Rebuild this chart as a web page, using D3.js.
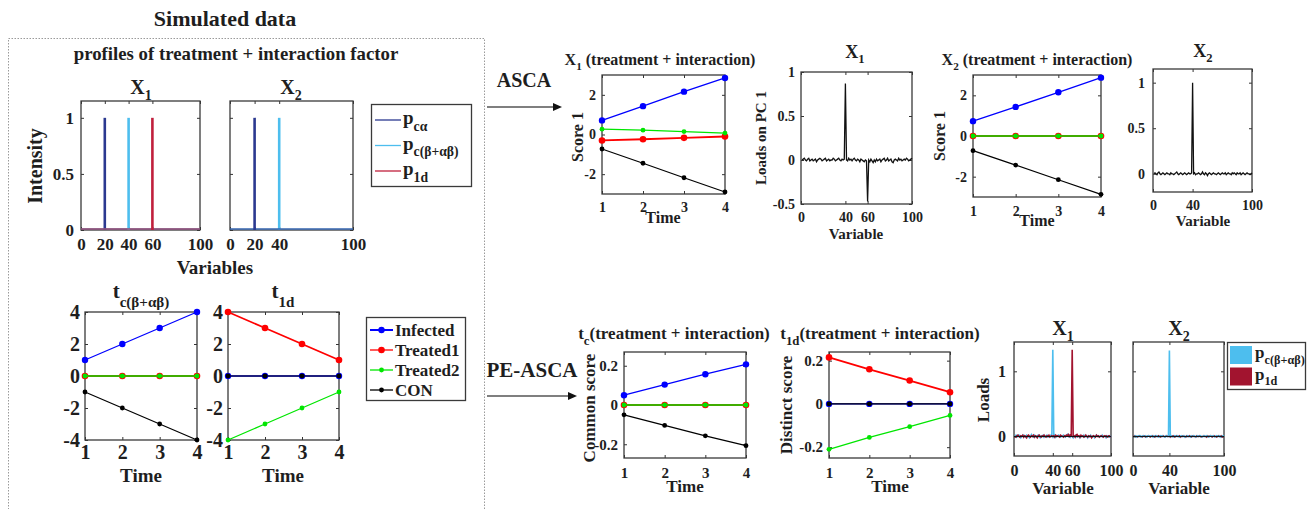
<!DOCTYPE html>
<html>
<head>
<meta charset="utf-8">
<script src="https://cdn.jsdelivr.net/npm/d3@7"></script>
<style>
body { margin: 0; background: #fff; }
svg text { font-family: "Liberation Serif", "Times New Roman", serif; font-weight: bold; fill: #1e1e1e; }
</style>
</head>
<body>
<div id="chart"></div>
<script>
// ---------- data ----------
var times = [1, 2, 3, 4];
var groups = ["Infected", "Treated1", "Treated2", "CON"];
var groupColors = {Infected: "#0000ff", Treated1: "#ff0000", Treated2: "#00e600", CON: "#000000"};
var groupDot = {Infected: 3.2, Treated1: 3.3, Treated2: 2.4, CON: 2.4};
var groupWidth = {Infected: 1.3, Treated1: 1.8, Treated2: 1.3, CON: 1.2};

// simulated profiles (spike position, intensity)
var profileNames = {pca: ["p", "cα"], pcb: ["p", "c(β+αβ)"], p1d: ["p", "1d"]};
var profileColors = {pca: "#2b3990", pcb: "#4dbeee", p1d: "#c01f3c"};
var profX1 = [{key: "pca", peak: 20, height: 1}, {key: "pcb", peak: 40, height: 1}, {key: "p1d", peak: 60, height: 1}];
var profX2 = [{key: "pcb", peak: 40, height: 1}, {key: "pca", peak: 20, height: 1}];

// simulated scores
var simTc = {Infected: [1, 2, 3, 4], Treated1: [0, 0, 0, 0], Treated2: [0, 0, 0, 0], CON: [-1, -2, -3, -4]};
var simT1d = {Infected: [0, 0, 0, 0], Treated1: [4, 3, 2, 1], Treated2: [-4, -3, -2, -1], CON: [0, 0, 0, 0]};

// ASCA scores
var ascaX1Score = {Infected: [0.71, 1.43, 2.16, 2.85], Treated1: [-0.30, -0.24, -0.17, -0.10], Treated2: [0.27, 0.22, 0.15, 0.07], CON: [-0.73, -1.45, -2.18, -2.90]};
var ascaX2Score = {Infected: [0.73, 1.43, 2.15, 2.87], Treated1: [0, 0, 0, 0], Treated2: [0, 0, 0, 0], CON: [-0.72, -1.43, -2.15, -2.87]};

// PE-ASCA scores
var peTc = {Infected: [0.05, 0.104, 0.157, 0.207], Treated1: [0, 0, 0, 0], Treated2: [0, 0, 0, 0], CON: [-0.05, -0.104, -0.157, -0.207]};
var peT1d = {Infected: [0, 0, 0, 0], Treated1: [0.215, 0.16, 0.108, 0.054], Treated2: [-0.21, -0.155, -0.105, -0.053], CON: [0, 0, 0, 0]};

// ASCA loadings on PC1, variables 1..100
var ascaLoadX1 = [
  0.00, 0.01, 0.02, 0.00, -0.01, 0.01, 0.02, -0.01, 0.00, 0.01,
  -0.01, 0.00, 0.01, -0.02, 0.00, 0.01, 0.02, 0.01, -0.01, 0.00,
  0.01, 0.02, -0.01, 0.00, 0.01, -0.01, 0.00, 0.00, 0.02, 0.01,
  -0.01, 0.00, 0.01, 0.02, 0.00, -0.01, 0.01, 0.00, 0.01, 0.87,
  0.00, -0.01, 0.02, 0.00, 0.01, -0.01, 0.01, 0.02, 0.00, -0.01,
  0.01, 0.00, -0.02, 0.01, 0.00, -0.01, -0.02, 0.00, -0.01, -0.47,
  0.00, -0.02, 0.01, -0.01, -0.03, 0.00, -0.02, 0.01, -0.01, 0.00,
  0.01, -0.02, 0.00, 0.01, 0.02, -0.01, 0.00, 0.02, -0.01, 0.00,
  0.01, -0.02, -0.03, 0.00, 0.01, 0.00, -0.01, 0.02, 0.00, 0.01,
  -0.01, 0.00, 0.01, 0.00, 0.02, 0.01, -0.01, 0.00, 0.01, 0.02
];
var ascaLoadX2 = [
  0.00, 0.01, 0.00, -0.01, 0.01, 0.02, 0.00, -0.01, 0.00, 0.01,
  0.00, -0.01, 0.00, 0.01, 0.00, 0.00, -0.01, 0.01, 0.00, 0.00,
  -0.01, 0.00, 0.01, 0.02, 0.00, -0.01, 0.00, 0.01, 0.00, -0.01,
  0.00, 0.01, 0.00, -0.01, 0.00, 0.01, 0.00, 0.00, 0.01, 1.00,
  0.00, 0.01, -0.01, 0.00, 0.00, 0.01, 0.00, -0.01, 0.00, 0.02,
  0.00, -0.01, 0.01, 0.00, -0.02, 0.00, 0.01, 0.00, -0.01, 0.00,
  0.01, 0.00, 0.00, -0.01, 0.00, 0.01, 0.00, -0.01, 0.00, 0.01,
  0.00, 0.00, 0.01, -0.01, 0.00, 0.01, 0.00, 0.00, -0.01, 0.01,
  0.00, 0.01, 0.00, -0.01, 0.01, 0.00, 0.00, 0.01, -0.01, 0.00,
  0.01, 0.00, -0.01, 0.00, 0.01, 0.00, 0.00, -0.01, 0.00, 0.01
];

// PE-ASCA loadings, common (c) and distinct (1d), variables 1..100
var peLoadX1c = [
  0.01, 0.02, -0.01, 0.00, 0.02, 0.01, -0.02, 0.00, 0.01, 0.02,
  0.00, -0.01, 0.02, 0.01, 0.00, -0.02, 0.01, 0.03, 0.00, -0.01,
  0.02, 0.00, -0.01, 0.01, 0.02, 0.00, -0.02, 0.01, 0.00, 0.02,
  -0.01, 0.01, 0.00, 0.02, -0.01, 0.00, 0.01, 0.02, 0.00, 1.33,
  0.00, 0.02, -0.01, 0.01, 0.00, 0.02, 0.01, -0.01, 0.00, 0.01,
  0.02, 0.00, -0.01, 0.01, 0.03, 0.00, 0.02, -0.01, 0.01, 0.00,
  -0.02, 0.01, 0.00, 0.02, -0.01, 0.00, 0.01, -0.02, 0.00, 0.01,
  0.00, 0.02, -0.01, 0.00, 0.01, -0.02, 0.01, 0.00, 0.02, -0.01,
  0.00, 0.01, -0.02, 0.00, 0.02, 0.01, 0.00, -0.01, 0.01, 0.00,
  0.02, -0.01, 0.00, 0.01, -0.02, 0.00, 0.01, 0.00, -0.01, 0.01
];
var peLoadX1d = [
  0.00, -0.01, 0.01, 0.02, 0.00, -0.01, 0.01, 0.00, 0.02, -0.01,
  0.01, 0.00, -0.02, 0.01, 0.02, 0.00, -0.01, 0.01, 0.00, 0.02,
  -0.01, 0.01, 0.00, -0.02, 0.01, 0.02, 0.00, -0.01, 0.01, 0.00,
  0.02, 0.00, -0.01, 0.01, 0.00, 0.02, -0.01, 0.00, 0.01, 0.00,
  0.01, -0.01, 0.02, 0.00, 0.01, 0.00, -0.01, 0.02, 0.01, 0.00,
  -0.01, 0.01, 0.00, 0.02, 0.01, 0.03, 0.00, 0.02, 0.01, 1.33,
  0.00, 0.01, -0.01, 0.02, 0.03, 0.00, 0.01, -0.01, 0.02, 0.00,
  0.01, -0.01, 0.00, 0.02, 0.00, -0.01, 0.01, 0.00, 0.01, -0.02,
  0.00, 0.01, 0.00, -0.01, 0.02, 0.00, 0.01, -0.01, 0.00, 0.01,
  0.00, -0.01, 0.01, 0.00, 0.01, -0.01, 0.00, 0.01, 0.00, -0.01
];
var peLoadX2c = [
  0.01, 0.00, 0.01, -0.01, 0.00, 0.01, 0.00, 0.01, -0.01, 0.00,
  0.01, 0.00, 0.00, 0.01, -0.01, 0.00, 0.01, 0.00, 0.00, 0.01,
  0.00, -0.01, 0.01, 0.00, 0.00, 0.01, 0.00, -0.01, 0.00, 0.01,
  0.00, 0.01, 0.00, 0.00, -0.01, 0.01, 0.00, 0.00, 0.01, 1.32,
  0.00, 0.01, 0.00, -0.01, 0.00, 0.01, 0.00, 0.00, 0.01, 0.00,
  -0.01, 0.00, 0.01, 0.00, 0.00, 0.01, -0.01, 0.00, 0.00, 0.01,
  0.00, 0.00, -0.01, 0.01, 0.00, 0.00, 0.01, 0.00, -0.01, 0.00,
  0.01, 0.00, 0.00, 0.01, 0.00, -0.01, 0.00, 0.01, 0.00, 0.00,
  0.01, 0.00, -0.01, 0.00, 0.01, 0.00, 0.00, 0.01, 0.00, -0.01,
  0.00, 0.01, 0.00, 0.00, 0.01, -0.01, 0.00, 0.00, 0.01, 0.00
];
var peLoadX2d = [
  0.00, 0.01, 0.00, 0.00, -0.01, 0.00, 0.01, 0.00, 0.00, -0.01,
  0.00, 0.01, 0.00, -0.01, 0.00, 0.00, 0.01, 0.00, -0.01, 0.00,
  0.01, 0.00, 0.00, -0.01, 0.01, 0.00, 0.00, 0.01, 0.00, -0.01,
  0.00, 0.00, 0.01, 0.00, -0.01, 0.00, 0.01, 0.00, 0.00, 0.01,
  -0.01, 0.00, 0.00, 0.01, 0.00, -0.01, 0.00, 0.01, 0.00, 0.00,
  0.01, -0.01, 0.00, 0.00, 0.01, 0.00, 0.00, -0.01, 0.01, 0.00,
  0.00, 0.01, 0.00, -0.01, 0.00, 0.01, 0.00, 0.00, -0.01, 0.01,
  0.00, 0.00, 0.01, 0.00, -0.01, 0.00, 0.00, 0.01, 0.00, 0.00,
  -0.01, 0.01, 0.00, 0.00, 0.01, 0.00, -0.01, 0.00, 0.01, 0.00,
  0.00, -0.01, 0.00, 0.01, 0.00, 0.00, 0.01, -0.01, 0.00, 0.00
];
var loadColors = {c: "#4dbeee", d: "#a2142f"};

// ---------- drawing ----------
var svg = d3.select("#chart").append("svg")
    .attr("width", 1310)
    .attr("height", 509);

// dotted frame round the simulated data
svg.append("rect")
    .attr("x", 8.5).attr("y", 38.5)
    .attr("width", 476).attr("height", 490)
    .attr("fill", "none")
    .attr("stroke", "#9a9a9a")
    .attr("stroke-dasharray", "1.5,1.5");

// text with subscripts: segs = ["X", {sub: "1"}, " (..)"]
function rich(parent, x, y, segs, size, opts) {
    opts = opts || {};
    var t = parent.append("text")
        .attr("x", x).attr("y", y)
        .attr("text-anchor", opts.anchor || "middle")
        .style("font-size", size + "px");
    if (opts.rotate) {
        t.attr("x", 0).attr("y", 0)
            .attr("transform", "translate(" + x + "," + y + ") rotate(-90)");
    }
    var shift = 0;
    segs.forEach(function (s) {
        var isSub = typeof s !== "string";
        var target = isSub ? (s.dy || 0.3) * size : 0;
        var ts = t.append("tspan").text(isSub ? s.sub : s).attr("dy", target - shift);
        if (isSub) ts.style("font-size", (s.size || 0.7) * size + "px");
        shift = target;
    });
    return t;
}

// matlab-like box axes
function box(p) {
    var g = svg.append("g").attr("transform", "translate(" + p.x + "," + p.y + ")");
    var x = d3.scaleLinear().domain(p.xDomain).range([0, p.w]);
    var y = d3.scaleLinear().domain(p.yDomain).range([p.h, 0]);
    var fmt = function (d) { return String(d); };
    var none = function () { return ""; };

    g.append("g").attr("transform", "translate(0," + p.h + ")")
        .call(d3.axisBottom(x).tickValues(p.xTicks).tickSize(-3).tickPadding(p.xPad).tickFormat(fmt))
        .style("font-size", p.font + "px");
    g.append("g")
        .call(d3.axisTop(x).tickValues(p.xTicks).tickSize(-3).tickFormat(none));
    g.append("g")
        .call(d3.axisLeft(y).tickValues(p.yTicks).tickSize(-3).tickPadding(p.yPad)
            .tickFormat(p.noYLabels ? none : fmt))
        .style("font-size", p.font + "px");
    g.append("g").attr("transform", "translate(" + p.w + ",0)")
        .call(d3.axisRight(y).tickValues(p.yTicks).tickSize(-3).tickFormat(none));

    g.selectAll(".domain").remove();
    g.selectAll(".tick line").attr("stroke", "#333");
    g.selectAll(".tick text").attr("fill", "#1e1e1e")
        .style("font-family", "'Liberation Serif', serif").style("font-weight", "bold");

    g.append("rect")
        .attr("width", p.w).attr("height", p.h)
        .attr("fill", "none")
        .attr("stroke", "#3a3a3a")
        .attr("stroke-width", 1.3);

    return {g: g, x: x, y: y};
}

function scoreLines(ax, series) {
    var line = d3.line()
        .x(function (d, i) { return ax.x(times[i]); })
        .y(function (d) { return ax.y(d); });
    groups.forEach(function (k) {
        ax.g.append("path")
            .datum(series[k])
            .attr("d", line)
            .attr("fill", "none")
            .attr("stroke", groupColors[k])
            .attr("stroke-width", groupWidth[k]);
        ax.g.selectAll(".dot-" + k)
            .data(series[k])
            .enter().append("circle")
            .attr("cx", function (d, i) { return ax.x(times[i]); })
            .attr("cy", function (d) { return ax.y(d); })
            .attr("r", groupDot[k])
            .attr("fill", groupColors[k]);
    });
}

function loadLine(ax, values, color, width) {
    var line = d3.line()
        .x(function (d, i) { return ax.x(i + 1); })
        .y(function (d) { return ax.y(d); });
    ax.g.append("path")
        .datum(values)
        .attr("d", line)
        .attr("fill", "none")
        .attr("stroke", color)
        .attr("stroke-width", width);
}

function profiles(ax, list) {
    list.forEach(function (p) {
        ax.g.append("line")
            .attr("x1", ax.x(0)).attr("x2", ax.x(100))
            .attr("y1", ax.y(0) - 1).attr("y2", ax.y(0) - 1)
            .attr("stroke", profileColors[p.key]).attr("stroke-width", 1.2);
        ax.g.append("line")
            .attr("x1", ax.x(p.peak)).attr("x2", ax.x(p.peak))
            .attr("y1", ax.y(0)).attr("y2", ax.y(p.height))
            .attr("stroke", profileColors[p.key]).attr("stroke-width", 2.6);
    });
}

// ---- simulated data ----
rich(svg, 225, 26, ["Simulated data"], 22);
rich(svg, 236, 60, ["profiles of treatment + interaction factor"], 18.8);

var axA = box({x: 81, y: 101, w: 119, h: 129, xDomain: [0, 100], yDomain: [0, 1.15],
    xTicks: [0, 20, 40, 60, 100], yTicks: [0, 0.5, 1], font: 17, xPad: 8, yPad: 7});
profiles(axA, profX1);
var axB = box({x: 230, y: 101, w: 123, h: 129, xDomain: [0, 100], yDomain: [0, 1.15],
    xTicks: [0, 20, 40, 100], yTicks: [0, 0.5, 1], font: 17, xPad: 8, yPad: 7, noYLabels: true});
profiles(axB, profX2);
rich(svg, 141, 94, ["X", {sub: "1"}], 20);
rich(svg, 291, 94, ["X", {sub: "2"}], 20);
rich(svg, 42, 166, ["Intensity"], 20, {rotate: true}).attr("dy", "0.35em");
rich(svg, 215, 274, ["Variables"], 19);

// legend of profiles
svg.append("rect").attr("x", 371.5).attr("y", 104.5).attr("width", 100).attr("height", 82)
    .attr("fill", "#fff").attr("stroke", "#3a3a3a").attr("stroke-width", 1.3);
["pca", "pcb", "p1d"].forEach(function (k, i) {
    var yy = 120 + i * 25.5;
    svg.append("line").attr("x1", 375).attr("x2", 401).attr("y1", yy).attr("y2", yy)
        .attr("stroke", profileColors[k]).attr("stroke-width", 1.3);
    rich(svg, 403, yy + 4, [profileNames[k][0], {sub: profileNames[k][1], dy: 0.35, size: 0.72}], 19, {anchor: "start"});
});

var axC = box({x: 85, y: 312, w: 112, h: 128, xDomain: [1, 4], yDomain: [-4, 4],
    xTicks: [1, 2, 3, 4], yTicks: [-4, -2, 0, 2, 4], font: 20, xPad: 5, yPad: 5});
scoreLines(axC, simTc);
var axD = box({x: 228, y: 312, w: 111, h: 128, xDomain: [1, 4], yDomain: [-4, 4],
    xTicks: [1, 2, 3, 4], yTicks: [-4, -2, 0, 2, 4], font: 20, xPad: 5, yPad: 5});
scoreLines(axD, simT1d);
rich(svg, 141, 298, ["t", {sub: "c(β+αβ)", dy: 0.45, size: 0.72}], 21);
rich(svg, 283, 298, ["t", {sub: "1d", dy: 0.45, size: 0.72}], 21);
rich(svg, 141, 482, ["Time"], 19);
rich(svg, 283, 482, ["Time"], 19);

// legend of groups
svg.append("rect").attr("x", 366.5).attr("y", 317.5).attr("width", 99).attr("height", 83)
    .attr("fill", "#fff").attr("stroke", "#3a3a3a").attr("stroke-width", 1.3);
groups.forEach(function (k, i) {
    var yy = 330 + i * 20;
    svg.append("line").attr("x1", 370).attr("x2", 393).attr("y1", yy).attr("y2", yy)
        .attr("stroke", groupColors[k]).attr("stroke-width", k === "Infected" ? 2 : 1.3);
    svg.append("circle").attr("cx", 381.5).attr("cy", yy).attr("r", groupDot[k])
        .attr("fill", groupColors[k]);
    rich(svg, 395, yy + 6, [k], 17, {anchor: "start"});
});

// ---- arrows ----
function arrow(x1, x2, yy) {
    svg.append("line").attr("x1", x1).attr("x2", x2 - 7).attr("y1", yy).attr("y2", yy)
        .attr("stroke", "#555").attr("stroke-width", 1.3);
    svg.append("path")
        .attr("d", "M" + x2 + "," + yy + "L" + (x2 - 9) + "," + (yy - 4) + "L" + (x2 - 9) + "," + (yy + 4) + "Z")
        .attr("fill", "#111");
}
arrow(487, 562, 107);
rich(svg, 524, 87, ["ASCA"], 20);
arrow(487, 577, 396);
rich(svg, 532, 377, ["PE-ASCA"], 21);

// ---- ASCA ----
var axE = box({x: 602, y: 75, w: 123, h: 119, xDomain: [1, 4], yDomain: [-3, 3],
    xTicks: [1, 2, 3, 4], yTicks: [-2, 0, 2], font: 14, xPad: 8, yPad: 6});
scoreLines(axE, ascaX1Score);
rich(svg, 660, 65, ["X", {sub: "1"}, " (treatment + interaction)"], 16);
rich(svg, 583, 137, ["Score 1"], 16, {rotate: true}).attr("dy", "0.35em");
rich(svg, 663, 223, ["Time"], 16);

var axF = box({x: 801, y: 72, w: 111, h: 132, xDomain: [0, 100], yDomain: [-0.5, 1],
    xTicks: [0, 40, 60, 100], yTicks: [-0.5, 0, 0.5, 1], font: 14, xPad: 8, yPad: 6});
loadLine(axF, ascaLoadX1, "#111", 1.3);
rich(svg, 855, 58, ["X", {sub: "1"}], 18);
rich(svg, 766, 138, ["Loads on PC 1"], 15, {rotate: true}).attr("dy", "0.35em");
rich(svg, 856, 239, ["Variable"], 15);

var axG = box({x: 973, y: 75, w: 128, h: 122, xDomain: [1, 4], yDomain: [-3, 3],
    xTicks: [1, 2, 3, 4], yTicks: [-2, 0, 2], font: 14, xPad: 9, yPad: 6});
scoreLines(axG, ascaX2Score);
rich(svg, 1037, 65, ["X", {sub: "2"}, " (treatment + interaction)"], 16);
rich(svg, 945, 136, ["Score 1"], 16, {rotate: true}).attr("dy", "0.35em");
rich(svg, 1037, 226, ["Time"], 16);

var axH = box({x: 1153, y: 69, w: 99, h: 123, xDomain: [0, 100], yDomain: [-0.2, 1.15],
    xTicks: [0, 40, 100], yTicks: [0, 0.5, 1], font: 14, xPad: 8, yPad: 8});
loadLine(axH, ascaLoadX2, "#111", 1.3);
rich(svg, 1203, 57, ["X", {sub: "2"}], 18);
rich(svg, 1203, 226, ["Variable"], 15);

// ---- PE-ASCA ----
var axI = box({x: 624, y: 352, w: 122, h: 106, xDomain: [1, 4], yDomain: [-0.27, 0.27],
    xTicks: [1, 2, 3, 4], yTicks: [-0.2, 0, 0.2], font: 15, xPad: 9, yPad: 6});
scoreLines(axI, peTc);
rich(svg, 674, 339, ["t", {sub: "c", dy: 0.35, size: 0.75}, "(treatment + interaction)"], 17);
rich(svg, 595, 408, ["Common score"], 17, {rotate: true}).attr("dy", "0.35em");
rich(svg, 685, 492, ["Time"], 17);

var axJ = box({x: 829, y: 352, w: 121, h: 106, xDomain: [1, 4], yDomain: [-0.25, 0.24],
    xTicks: [1, 2, 3, 4], yTicks: [-0.2, 0, 0.2], font: 15, xPad: 9, yPad: 6});
scoreLines(axJ, peT1d);
rich(svg, 880, 339, ["t", {sub: "1d", dy: 0.35, size: 0.75}, "(treatment + interaction)"], 17);
rich(svg, 792, 405, ["Distinct score"], 17, {rotate: true}).attr("dy", "0.35em");
rich(svg, 890, 492, ["Time"], 17);

var axK = box({x: 1014, y: 342, w: 97, h: 114, xDomain: [0, 100], yDomain: [-0.3, 1.45],
    xTicks: [0, 40, 60, 100], yTicks: [0, 1], font: 16, xPad: 9, yPad: 8});
loadLine(axK, peLoadX1c, loadColors.c, 1.6);
loadLine(axK, peLoadX1d, loadColors.d, 1.6);
var axL = box({x: 1133, y: 342, w: 91, h: 114, xDomain: [0, 100], yDomain: [-0.3, 1.45],
    xTicks: [0, 40, 100], yTicks: [0, 1], font: 16, xPad: 9, yPad: 8, noYLabels: true});
loadLine(axL, peLoadX2d, loadColors.d, 1.6);
loadLine(axL, peLoadX2c, loadColors.c, 1.6);
[axK, axL].forEach(function (ax) {
    ax.g.append("line")
        .attr("x1", ax.x(0)).attr("x2", ax.x(100))
        .attr("y1", ax.y(0)).attr("y2", ax.y(0))
        .attr("stroke", "#111").attr("stroke-width", 1);
});
rich(svg, 1063, 335, ["X", {sub: "1"}], 20);
rich(svg, 1179, 335, ["X", {sub: "2"}], 20);
rich(svg, 989, 400, ["Loads"], 17, {rotate: true}).attr("dy", "0.35em");
rich(svg, 1063, 494, ["Variable"], 17);
rich(svg, 1179, 494, ["Variable"], 17);

// legend of PE loads
svg.append("rect").attr("x", 1227.5).attr("y", 342.5).attr("width", 78).attr("height", 47)
    .attr("fill", "#fff").attr("stroke", "#3a3a3a").attr("stroke-width", 1.3);
[["c", "c(β+αβ)"], ["d", "1d"]].forEach(function (e, i) {
    var yy = 346 + i * 21.5;
    svg.append("rect").attr("x", 1230).attr("y", yy).attr("width", 22).attr("height", 18)
        .attr("fill", loadColors[e[0]]);
    rich(svg, 1255, yy + 12, ["p", {sub: e[1], dy: 0.35, size: 0.72}], 17, {anchor: "start"});
});
</script>
</body>
</html>
